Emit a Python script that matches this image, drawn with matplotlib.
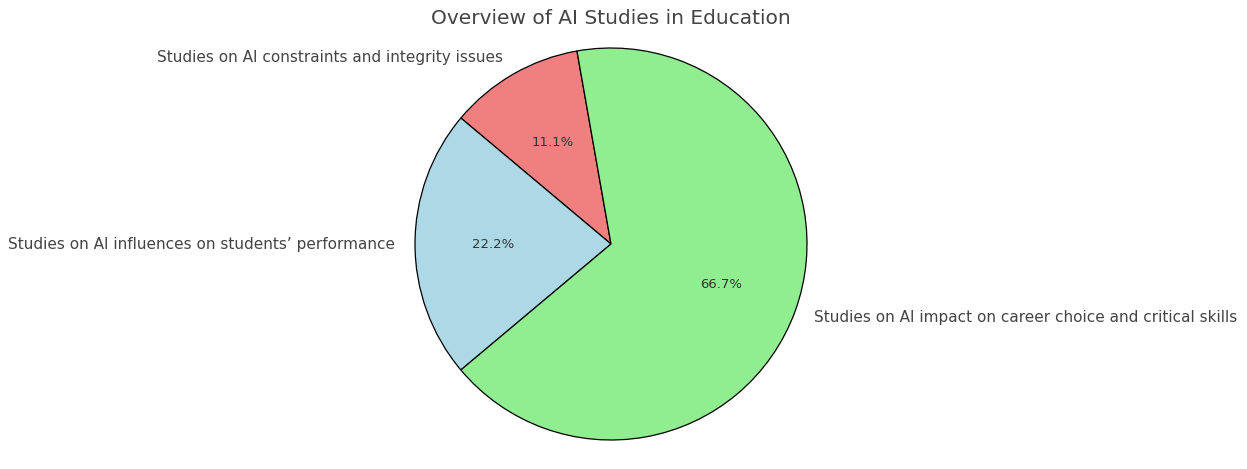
import matplotlib
matplotlib.use("Agg")
import matplotlib.pyplot as plt

labels = ["Studies on AI constraints and integrity issues",
          "Studies on AI influences on students’ performance",
          "Studies on AI impact on career choice and critical skills"]
values = [1, 2, 6]
colors = ["lightcoral", "lightblue", "lightgreen"]

fig = plt.figure(figsize=(12.47, 4.69), dpi=100)
W, H = 1247, 469
cx, cy, r = 611, 244, 196
ax = fig.add_axes([(cx - r) / W, (H - cy - r) / H, 2 * r / W, 2 * r / H])
wedges, texts, autotexts = ax.pie(values, labels=labels, colors=colors, autopct="%1.1f%%",
                                  startangle=100, wedgeprops=dict(edgecolor="black", linewidth=0.9),
                                  textprops=dict(color="#444444", fontsize=11))
for t in autotexts:
    t.set_fontsize(9.5)
    t.set_color("#333333")
ax.set_xlim(-1, 1)
ax.set_ylim(-1, 1)
ax.set_aspect("equal")
fig.text(cx / W, 1 - 18 / H, "Overview of AI Studies in Education", ha="center", va="center",
         fontsize=14.5, color="#444444")
fig.savefig("out.png", dpi=100, facecolor="white")
